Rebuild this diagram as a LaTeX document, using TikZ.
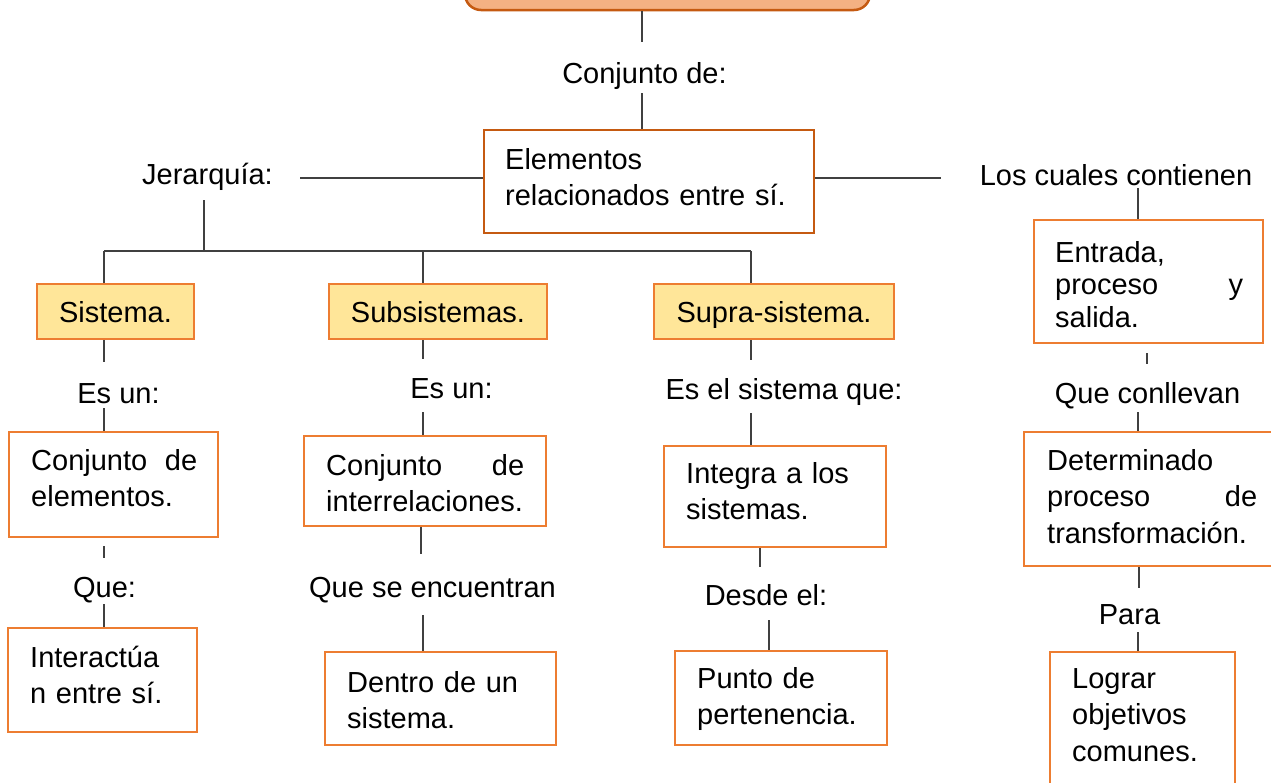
\documentclass[tikz,border=0pt]{standalone}
\usepackage{fontspec}
\setmainfont{Liberation Sans}
\usetikzlibrary{calc}
\definecolor{bord}{HTML}{ED7D31}
\definecolor{dbord}{HTML}{C55A11}
\definecolor{topfill}{HTML}{F4B183}
\definecolor{yel}{HTML}{FFE699}
\definecolor{ln}{HTML}{404040}
\begin{document}
\begin{tikzpicture}[x=1pt,y=-1pt,
  font=\fontsize{29}{36.5}\selectfont,
  box/.style={draw=bord, line width=2.5pt, fill=white, inner sep=0pt, rectangle},
  ybox/.style={box, fill=yel, text height=21pt, text depth=0pt},
  txt/.style={anchor=base west, inner sep=0pt, align=left},
  lbl/.style={anchor=base, inner sep=0pt},
  conn/.style={draw=ln, line width=1.3pt}]
\clip (0,0) rectangle (1271,782);
\fill[white] (0,0) rectangle (1271,782);

% boxes
\node[draw=dbord, fill=topfill, line width=2.5pt, rounded corners=16pt,
      minimum width=405pt, minimum height=60pt, inner sep=0pt] (top) at (667.5,-20) {};
\node[box, draw=dbord, minimum width=330pt, minimum height=103pt] (elem) at (649,181.5) {};
\node[ybox, minimum width=157pt, minimum height=55pt] (sis) at (115.5,311.5) {Sistema.};
\node[ybox, minimum width=218pt, minimum height=55pt] (sub) at (438,311.5) {Subsistemas.};
\node[ybox, minimum width=240pt, minimum height=55pt] (sup) at (774,311.5) {Supra-sistema.};
\node[box, minimum width=209pt, minimum height=105pt] (ce) at (113.5,484.5) {};
\node[box, minimum width=189pt, minimum height=104pt] (inter) at (102.5,680) {};
\node[box, minimum width=242pt, minimum height=90pt] (ci) at (425,481) {};
\node[box, minimum width=231pt, minimum height=93pt] (dentro) at (440.5,698.5) {};
\node[box, minimum width=222pt, minimum height=101pt] (integ) at (775,496.5) {};
\node[box, minimum width=212pt, minimum height=94pt] (punto) at (781,698) {};
\node[box, minimum width=229pt, minimum height=123pt] (entr) at (1148.5,281.5) {};
\node[box, minimum width=251pt, minimum height=134pt] (det) at (1149.5,499) {};
\node[box, minimum width=185pt, minimum height=148pt] (log) at (1142.5,726) {};

% texts inside boxes
\node[txt, text width=300pt] (elemT) at (505,169) {Elementos\\relacionados entre sí.};
\node[txt, text width=166pt] (ceT) at (31,470) {Conjunto\hfill de\\elementos.};
\node[txt, text width=200pt] (interT) at (30,667) {Interactúa\\n entre sí.};
\node[txt, text width=198pt] (ciT) at (326,475) {Conjunto\hfill de\\interrelaciones.};
\node[txt, text width=220pt] (dentroT) at (347,692) {Dentro de un\\sistema.};
\node[txt, text width=200pt] (integT) at (686,483) {Integra a los\\sistemas.};
\node[txt, text width=200pt] (puntoT) at (697,688) {Punto de\\pertenencia.};
\node[txt, text width=188pt, font=\fontsize{29}{32.5}\selectfont] (entrT) at (1055,262) {Entrada,\\proceso\hfill y\\salida.};
\node[txt, text width=210pt] (detT) at (1047,470) {Determinado\\proceso\hfill de\\transformación.};
\node[txt, text width=180pt] (logT) at (1072,688) {Lograr\\objetivos\\comunes.};

% free labels
\node[lbl] (lConj) at (644.5,83) {Conjunto de:};
\node[lbl] (lJer) at (207.5,184) {Jerarquía:};
\node[lbl] (lLos) at (1116,185) {Los cuales contienen};
\node[lbl] (lEs1) at (118.5,403) {Es un:};
\node[lbl] (lQue) at (104.5,597) {Que:};
\node[lbl] (lEs2) at (451.5,398) {Es un:};
\node[lbl] (lQse) at (432.5,597) {Que se encuentran};
\node[lbl] (lEsel) at (784,399) {Es el sistema que:};
\node[lbl] (lDes) at (766,605) {Desde el:};
\node[lbl] (lQcon) at (1147.5,403) {Que conllevan};
\node[lbl] (lPara) at (1129.5,624) {Para};

% coordinates for free ends
\coordinate (c1) at (642,42);
\coordinate (c2) at (642,93);
\coordinate (c3) at (300,178);
\coordinate (c4) at (941,178);
\coordinate (j1) at (204,200);
\coordinate (j2) at (204,251);
\coordinate (t1) at (104,251);
\coordinate (t2) at (423,251);
\coordinate (t3) at (751,251);
\coordinate (a1) at (104,362);
\coordinate (a2) at (104,408);
\coordinate (a3) at (104,546);
\coordinate (a4) at (104,558);
\coordinate (a5) at (104,604);
\coordinate (b1) at (423,359);
\coordinate (b2) at (423,412);
\coordinate (b3) at (421,554);
\coordinate (b4) at (423,615);
\coordinate (s1) at (751,360);
\coordinate (s2) at (751,413);
\coordinate (s3) at (760,567);
\coordinate (s4) at (769,620);
\coordinate (r1) at (1138,188);
\coordinate (r2) at (1147,353);
\coordinate (r3) at (1147,364);
\coordinate (r4) at (1138,412);
\coordinate (r5) at (1139,588);
\coordinate (r6) at (1138,632);

% connectors
\draw[conn] (top.south -| c1) -- (c1);
\draw[conn] (c2) -- (c2 |- elem.north);
\draw[conn] (c3) -- (c3 -| elem.west);
\draw[conn] (elem.east |- c4) -- (c4);
\draw[conn] (j1) -- (j2);
\draw[conn] (t1) -- (t3);
\draw[conn] (t1) -- (t1 |- sis.north);
\draw[conn] (t2) -- (t2 |- sub.north);
\draw[conn] (t3) -- (t3 |- sup.north);
\draw[conn] (a1 |- sis.south) -- (a1);
\draw[conn] (a2) -- (a2 |- ce.north);
\draw[conn] (a3) -- (a4);
\draw[conn] (a5) -- (a5 |- inter.north);
\draw[conn] (b1 |- sub.south) -- (b1);
\draw[conn] (b2) -- (b2 |- ci.north);
\draw[conn] (b3 |- ci.south) -- (b3);
\draw[conn] (b4) -- (b4 |- dentro.north);
\draw[conn] (s1 |- sup.south) -- (s1);
\draw[conn] (s2) -- (s2 |- integ.north);
\draw[conn] (s3 |- integ.south) -- (s3);
\draw[conn] (s4) -- (s4 |- punto.north);
\draw[conn] (r1) -- (r1 |- entr.north);
\draw[conn] (r2) -- (r3);
\draw[conn] (r4) -- (r4 |- det.north);
\draw[conn] (r5 |- det.south) -- (r5);
\draw[conn] (r6) -- (r6 |- log.north);
\end{tikzpicture}
\end{document}
